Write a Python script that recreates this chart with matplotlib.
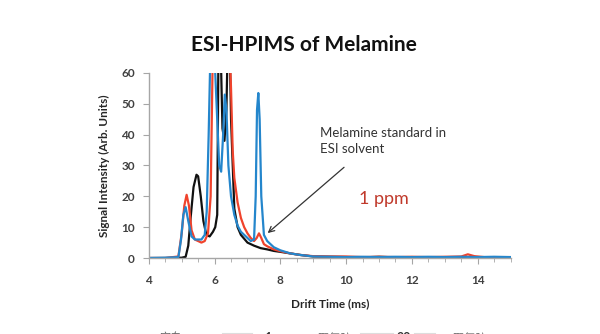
import numpy as np
import matplotlib.pyplot as plt
from matplotlib.ticker import MultipleLocator

# drift time (ms) / intensity for each trace
t_blank = [4.0, 4.5, 5.0, 5.12, 5.2, 5.28, 5.36, 5.45, 5.5, 5.58, 5.66, 5.75, 5.85, 5.95,
           6.02, 6.08, 6.12, 6.18, 6.24, 6.3, 6.36, 6.4, 6.45, 6.5, 6.6, 6.7, 6.8, 7.0,
           7.2, 7.4, 7.6, 7.8, 8.0, 8.3, 8.6, 9.0, 9.5, 10.0, 10.5, 11.0, 11.5, 12.0,
           12.5, 13.0, 13.5, 14.0, 14.5, 15.0]
i_blank = [0.0, 0.0, 0.1, 0.4, 4, 14, 23, 27, 26.5, 20, 12, 7.5, 7, 8.5,
           10, 14, 70, 70, 42, 38, 48, 70, 75, 45, 16, 10, 7.5, 5,
           4, 3.2, 2.8, 2.3, 2, 1.5, 1, 0.5, 0.4, 0.3, 0.2, 0.4, 0.2, 0.3,
           0.2, 0.3, 0.2, 0.3, 0.2, 0.2]

t_1ppm = [4.0, 4.5, 4.9, 5.0, 5.08, 5.15, 5.22, 5.3, 5.4, 5.5, 5.6, 5.7, 5.8, 5.88,
          5.95, 6.0, 6.2, 6.4, 6.45, 6.5, 6.55, 6.6, 6.7, 6.8, 6.9, 7.0, 7.1, 7.2,
          7.28, 7.35, 7.42, 7.5, 7.6, 7.8, 8.0, 8.3, 8.6, 9.0, 9.5, 10.0, 10.5, 11.0,
          11.5, 12.0, 12.5, 13.0, 13.5, 13.7, 13.9, 14.2, 14.5, 15.0]
i_1ppm = [0.0, 0.0, 0.5, 8, 17, 20.5, 17, 9, 6, 5.5, 5, 5.5, 8, 20,
          70, 80, 80, 80, 70, 55, 35, 26, 18, 13, 10, 8, 6.5, 5.5,
          6.5, 8, 6.5, 4.5, 3.8, 2.8, 2.2, 1.5, 1, 0.6, 0.5, 0.5, 0.3, 0.4,
          0.3, 0.4, 0.3, 0.4, 0.5, 1.2, 0.6, 0.3, 0.3, 0.3]

t_20ppm = [4.0, 4.5, 4.9, 4.98, 5.05, 5.12, 5.2, 5.3, 5.4, 5.5, 5.6, 5.7, 5.76, 5.82,
           5.88, 5.98, 6.08, 6.14, 6.2, 6.26, 6.31, 6.36, 6.42, 6.5, 6.6, 6.7, 6.8, 7.0,
           7.1, 7.2, 7.25, 7.29, 7.33, 7.37, 7.42, 7.5, 7.6, 7.8, 8.0, 8.3, 8.6, 9.0,
           9.5, 10.0, 10.5, 11.0, 11.5, 12.0, 12.5, 13.0, 13.5, 14.0, 14.5, 15.0]
i_20ppm = [0.0, 0.1, 0.3, 6, 14, 16.5, 12, 7, 6, 6, 6, 7.5, 15, 40,
           70, 70, 45, 30, 28, 40, 53, 48, 30, 20, 14, 10.5, 8.5, 6.5,
           5.5, 6, 20, 48, 53.5, 45, 20, 7.5, 5.5, 3.5, 2.5, 1.5, 1, 0.5,
           0.4, 0.3, 0.4, 0.3, 0.4, 0.3, 0.4, 0.3, 0.4, 0.3, 0.4, 0.3]

legend_labels = ['空白', '1', '三聚氰胺', '20', '三聚氰胺']

plt.rcParams['font.family'] = ['Lato', 'DejaVu Sans']

fig = plt.figure(figsize=(6, 3.34), dpi=100)
ax = fig.add_axes([0.248, 0.2275, 0.603, 0.554])

ax.plot(t_blank, i_blank, color='#111111', lw=1.6)
ax.plot(t_1ppm, i_1ppm, color='#f0432c', lw=1.6)
ax.plot(t_20ppm, i_20ppm, color='#2486cc', lw=1.6)

ax.set_xlim(4, 15)
ax.set_ylim(0, 60)
ax.xaxis.set_major_locator(MultipleLocator(2))
ax.xaxis.set_minor_locator(MultipleLocator(0.5))
ax.yaxis.set_major_locator(MultipleLocator(10))

for s in ['top', 'right']:
    ax.spines[s].set_visible(False)
for s in ['left', 'bottom']:
    ax.spines[s].set_color('#a6a6a6')
    ax.spines[s].set_linewidth(1.0)

ax.tick_params(axis='both', which='both', color='#a6a6a6', direction='out',
               labelcolor='#404040', labelsize=8.5)
ax.tick_params(axis='x', which='major', length=4, pad=8)
ax.tick_params(axis='x', which='minor', length=3)
ax.tick_params(axis='y', length=4, pad=6)
for lab in ax.get_xticklabels() + ax.get_yticklabels():
    lab.set_fontweight('bold')

ax.set_xlabel('Drift Time (ms)', fontsize=8.5, fontweight='bold', color='#262626', labelpad=9)
ax.set_ylabel('Signal Intensity (Arb. Units)', fontsize=8.5, fontweight='bold', color='#262626', labelpad=8)

fig.text(0.507, 0.865, 'ESI-HPIMS of Melamine', ha='center', va='center',
         fontsize=15, fontweight='bold', color='#111111')

ax.annotate('', xy=(7.55, 7.5), xytext=(10.0, 30),
            arrowprops=dict(arrowstyle='->', color='#333333', lw=0.9))
ax.text(9.2, 33.5, 'Melamine standard in\nESI solvent', fontsize=9.5, color='#333333',
        va='bottom', ha='left', linespacing=1.35)
ax.text(10.4, 19, '1 ppm', fontsize=13, color='#c0392b', va='center', ha='left')

# legend row running off the bottom edge
ly = -0.012
cjk = ['Noto Sans CJK SC', 'DejaVu Sans']
fig.text(0.283, ly, legend_labels[0], fontsize=8, color='#666666', ha='center', va='center', family=cjk)
fig.text(0.447, ly, legend_labels[1], fontsize=9, color='#333333', ha='center', va='center', fontweight='bold')
fig.text(0.55, ly, legend_labels[2], fontsize=8, color='#666666', ha='center', va='center', family=cjk)
fig.text(0.673, ly, legend_labels[3], fontsize=9, color='#333333', ha='center', va='center', fontweight='bold')
fig.text(0.775, ly, legend_labels[4], fontsize=8, color='#666666', ha='center', va='center', family=cjk)
for x0, x1 in [(0.37, 0.42), (0.6, 0.655), (0.69, 0.725)]:
    fig.lines.append(plt.Line2D([x0, x1], [0.004, 0.004], color='#dddddd', lw=0.8,
                                transform=fig.transFigure))

fig.savefig('out.png', dpi=100)
